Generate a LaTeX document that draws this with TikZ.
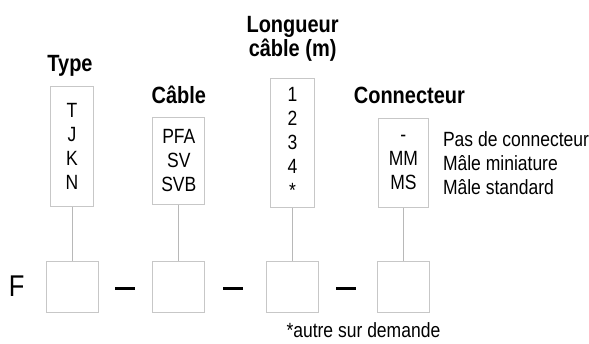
\documentclass[tikz,border=0pt]{standalone}
\usepackage{fontspec}
\setmainfont[FakeStretch=0.85]{Liberation Sans}
\usetikzlibrary{positioning}
\tikzset {
    node distance=54pt,
    every node/.style={inner sep=0pt},
    slot/.style={draw=black!22, line width=0.8pt, minimum width=52pt, minimum height=51pt},
    choice/.style={draw=black!22, line width=0.8pt, align=center, font=\fontsize{20.6}{24}\selectfont},
    title/.style={align=center, text depth=0pt, font=\bfseries\fontsize{23.5}{24}\selectfont},
    hyphen/.style={fill=black, minimum width=20pt, minimum height=3.5pt, yshift=-2pt},
    link/.style={draw=black!28, line width=0.8pt}
}

\begin{document}
\begin{tikzpicture}
    \useasboundingbox (0pt,0pt) rectangle (589pt,-343pt);

    \node[slot] (b1) at (72pt,-286.5pt) {};
    \node[slot, right=54pt of b1] (b2) {};
    \node[slot, right=61pt of b2] (b3) {};
    \node[slot, right=58pt of b3] (b4) {};

    \node[left=21pt of b1, font=\fontsize{30}{30}\selectfont] (f) {F};
    \node[hyphen, right=16pt of b1, anchor=west] (h1) {};
    \node[hyphen, right=18pt of b2, anchor=west] (h2) {};
    \node[hyphen, right=17pt of b3, anchor=west] (h3) {};

    \node[choice, above=54pt of b1, minimum width=43pt, minimum height=120pt] (o1) {T\\J\\K\\N};
    \node[choice, above=56pt of b2, minimum width=52pt, minimum height=87pt] (o2) {PFA\\SV\\SVB};
    \node[choice, above=53pt of b3, minimum width=44pt, minimum height=129pt] (o3) {1\\2\\3\\4\\*};
    \node[choice, above=53pt of b4, minimum width=50pt, minimum height=89pt] (o4) {-\\MM\\MS};

    \node[title, above=14pt of o1, xshift=-2pt] (t1) {Type};
    \node[title, above=13pt of o2] (t2) {Câble};
    \node[title, above=21pt of o3] (t3) {Longueur\\câble (m)};
    \node[title, above=14pt of o4, xshift=6pt] (t4) {Connecteur};

    \node[right=14pt of o4, align=left, font=\fontsize{20.6}{24}\selectfont] (d4)
        {Pas de connecteur\\Mâle miniature\\Mâle standard};
    \node[below=10pt of b4, xshift=-40pt, font=\fontsize{20.6}{24}\selectfont] (note)
        {*autre sur demande};

    \draw[link]
     (o1) edge (b1)
     (o2) edge (b2)
     (o3) edge (b3)
     (o4) edge (b4);
\end{tikzpicture}
\end{document}
